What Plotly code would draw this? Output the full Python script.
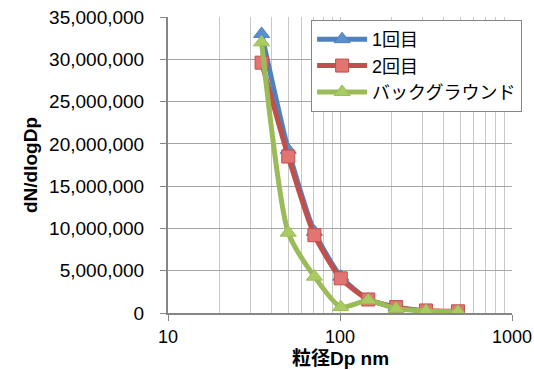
import plotly.graph_objects as go

# Particle diameter bins (nm)
diameter_nm = [35, 50, 71, 101, 146, 212, 316, 485]

# dN/dlogDp for each measurement
run1 = [33000000, 19300000, 9600000, 4300000, 1600000, 700000, 200000, 150000]
run2 = [29600000, 18500000, 9200000, 4100000, 1600000, 700000, 300000, 200000]
background = [32000000, 9500000, 4300000, 700000, 1500000, 500000, 250000, 150000]

series_names = ["1回目", "2回目", "バックグラウンド"]
x_tick_vals = [10, 100, 1000]
y_tick_vals = list(range(0, 35000001, 5000000))

FONT = "Liberation Sans, Arial, Noto Sans CJK JP, sans-serif"

styles = [
    dict(color="#4F81BD", fill="#5B8FD0", symbol="triangle-up", size=14),
    dict(color="#C0504D", fill="#E27472", symbol="square", size=13),
    dict(color="#9BBB59", fill="#A9CC62", symbol="triangle-up", size=14),
]

fig = go.Figure()
for name, ys, st in zip(series_names, [run1, run2, background], styles):
    fig.add_trace(go.Scatter(
        x=diameter_nm, y=ys, name=name,
        mode="lines+markers",
        line=dict(color=st["color"], width=5, shape="spline", smoothing=0.6),
        marker=dict(symbol=st["symbol"], size=st["size"], color=st["fill"],
                    line=dict(color=st["color"], width=1)),
    ))

fig.update_layout(
    width=534, height=370,
    margin=dict(l=168, r=22, t=17, b=57),
    paper_bgcolor="white", plot_bgcolor="white",
    font=dict(family=FONT, size=19, color="black"),
    showlegend=True,
    legend=dict(
        x=0.416, y=0.99, xanchor="left", yanchor="top",
        bgcolor="white", bordercolor="#868686", borderwidth=1,
        font=dict(size=18), itemwidth=50, tracegroupgap=0,
    ),
    xaxis=dict(
        type="log", range=[1, 3], automargin=False,
        tickvals=x_tick_vals, ticktext=[str(v) for v in x_tick_vals],
        tickfont=dict(size=18),
        showgrid=True, gridcolor="#BFBFBF", gridwidth=1,
        minor=dict(showgrid=True, gridcolor="#C8C8C8", gridwidth=1,
                   dtick="D1"),
        showline=True, linecolor="#868686", linewidth=2,
        ticks="outside", ticklen=6, tickcolor="#868686",
        ticklabelstandoff=0,
        mirror=False, zeroline=False,
    ),
    yaxis=dict(
        range=[0, 35000000], automargin=False,
        tickvals=y_tick_vals, tickformat=",d",
        showgrid=True, gridcolor="#A6A6A6", gridwidth=1,
        showline=True, linecolor="#868686", linewidth=2,
        ticks="outside", ticklen=6, tickcolor="#868686",
        ticklabelstandoff=12,
        zeroline=False,
    ),
    annotations=[
        dict(text="<b>粒径Dp nm</b>", xref="paper", yref="paper",
             x=0.5, y=0, yshift=-45, xanchor="center", yanchor="middle",
             showarrow=False, font=dict(size=19)),
        dict(text="<b>dN/dlogDp</b>", xref="paper", yref="paper",
             x=0, y=0.5, xshift=-138, xanchor="center", yanchor="middle",
             textangle=-90, showarrow=False, font=dict(size=19)),
    ],
)

fig.write_html("out.html")
